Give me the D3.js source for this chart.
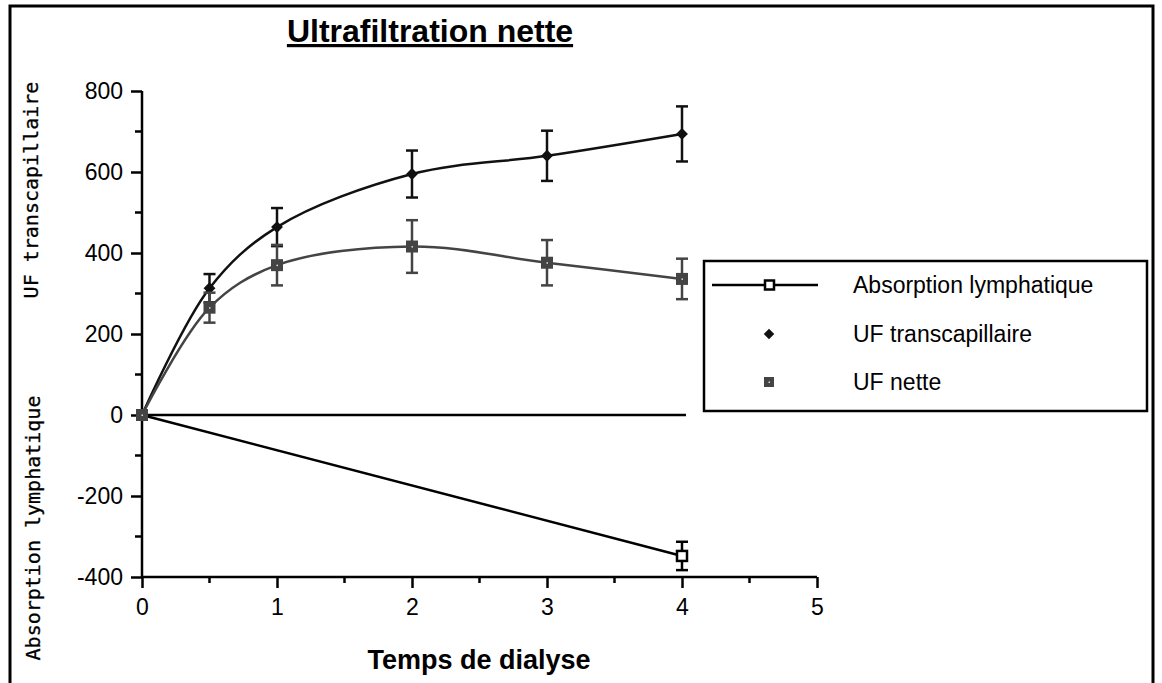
<!DOCTYPE html>
<html>
<head>
<meta charset="utf-8">
<script src="https://cdn.jsdelivr.net/npm/d3@7"></script>
<style>
  body { margin: 0; background: #fff; }
  svg { display: block; }
</style>
</head>
<body>
<svg id="chart" width="1162" height="683"></svg>
<script>
// time (h)
const hours = [0, 0.5, 1, 2, 3, 4]
const ufTrans = [0, 313, 464, 595, 640, 694]
const ufTransErr = [0, 35, 47, 58, 62, 68]
const ufNette = [0, 265, 370, 416, 376, 336]
const ufNetteErr = [0, 37, 50, 65, 56, 50]
const absHours = [0, 4]
const absLymph = [0, -348]
const absErr = [0, 35]
const xTicks = [0, 1, 2, 3, 4, 5]
const yTicks = [-400, -200, 0, 200, 400, 600, 800]
const legendNames = ["Absorption lymphatique", "UF transcapillaire", "UF nette"]

const svg = d3.select("#chart")
const font = "Arial, 'Liberation Sans', sans-serif"

const x = d3.scaleLinear().domain([0, 5]).range([142, 817])
const y = d3.scaleLinear().domain([-400, 800]).range([577, 91])

// outer frame (no bottom edge)
svg.append("path")
  .attr("d", "M10,683 V6 H1153 V683")
  .attr("fill", "none").attr("stroke", "#000").attr("stroke-width", 3)

// title
svg.append("text")
  .attr("x", 430).attr("y", 42)
  .attr("text-anchor", "middle")
  .style("font", "bold 32px " + font)
  .style("text-decoration", "underline")
  .text("Ultrafiltration nette")

// axes
const fmt = d => String(d)
const yAxis = d3.axisLeft(y).tickValues(yTicks).tickSize(11).tickPadding(8).tickFormat(fmt)
const gy = svg.append("g").attr("transform", "translate(142,0)").call(yAxis)
const xAxis = d3.axisBottom(x).tickValues(xTicks).tickSize(11).tickPadding(11).tickFormat(fmt)
const gx = svg.append("g").attr("transform", "translate(0,577)").call(xAxis)

;[gx, gy].forEach(g => {
  g.select(".domain").attr("stroke-width", 2.5)
  g.selectAll(".tick line").attr("stroke-width", 2.5)
  g.selectAll(".tick text").style("font", "23px " + font).attr("fill", "#000")
})
gx.select(".domain").attr("d", "M142,0H817")
gy.select(".domain").attr("d", "M0,91V577")

// minor ticks
svg.append("g").selectAll("line")
  .data(d3.range(-300, 800, 200))
  .join("line")
  .attr("x1", 135).attr("x2", 142)
  .attr("y1", d => y(d)).attr("y2", d => y(d))
  .attr("stroke", "#000").attr("stroke-width", 2.5)
svg.append("g").selectAll("line")
  .data([0.5, 1.5, 2.5, 3.5, 4.5])
  .join("line")
  .attr("x1", d => x(d)).attr("x2", d => x(d))
  .attr("y1", 577).attr("y2", 583)
  .attr("stroke", "#000").attr("stroke-width", 2.5)

// axis titles
svg.append("text")
  .attr("transform", "translate(" + 479 + ",669)")
  .attr("text-anchor", "middle")
  .style("font", "bold 27px " + font)
  .text("Temps de dialyse")

svg.append("text")
  .attr("transform", "translate(38,190) rotate(-90)")
  .attr("text-anchor", "middle")
  .style("font", "20px 'DejaVu Sans Mono', monospace")
  .attr("fill", "#000")
  .attr("stroke", "#000").attr("stroke-width", 0.3)
  .text("UF transcapillaire")
svg.append("text")
  .attr("transform", "translate(40,528) rotate(-90)")
  .attr("text-anchor", "middle")
  .style("font", "20px 'DejaVu Sans Mono', monospace")
  .attr("fill", "#000")
  .attr("stroke", "#000").attr("stroke-width", 0.3)
  .text("Absorption lymphatique")

// zero line
svg.append("line")
  .attr("x1", x(0)).attr("x2", x(4) + 4)
  .attr("y1", y(0)).attr("y2", y(0))
  .attr("stroke", "#000").attr("stroke-width", 2.5)

const line = d3.line().x(d => x(d[0])).y(d => y(d[1])).curve(d3.curveCatmullRom.alpha(0.5))

function errorBars(xs, vals, errs, color) {
  const g = svg.append("g").attr("stroke", color).attr("stroke-width", 2.5)
  xs.forEach((h, i) => {
    if (!errs[i]) return
    const cx = x(h)
    g.append("line").attr("x1", cx).attr("x2", cx)
      .attr("y1", y(vals[i] - errs[i])).attr("y2", y(vals[i] + errs[i]))
    ;[vals[i] - errs[i], vals[i] + errs[i]].forEach(v => {
      g.append("line").attr("x1", cx - 6).attr("x2", cx + 6)
        .attr("y1", y(v)).attr("y2", y(v))
    })
  })
}

// absorption lymphatique
svg.append("path")
  .attr("d", d3.line().x(d => x(d[0])).y(d => y(d[1]))(absHours.map((h, i) => [h, absLymph[i]])))
  .attr("fill", "none").attr("stroke", "#000").attr("stroke-width", 2.5)
errorBars(absHours, absLymph, absErr, "#000")
svg.append("g").selectAll("rect")
  .data(absHours.map((h, i) => [h, absLymph[i]]).filter(d => d[0] > 0))
  .join("rect")
  .attr("x", d => x(d[0]) - 5).attr("y", d => y(d[1]) - 5)
  .attr("width", 10).attr("height", 10)
  .attr("fill", "#fff").attr("stroke", "#000").attr("stroke-width", 2.5)

// UF transcapillaire
svg.append("path")
  .attr("d", line(hours.map((h, i) => [h, ufTrans[i]])))
  .attr("fill", "none").attr("stroke", "#111").attr("stroke-width", 2.5)
errorBars(hours, ufTrans, ufTransErr, "#111")
const diamond = d3.symbol().type(d3.symbolDiamond2).size(90)
svg.append("g").selectAll("path")
  .data(hours.map((h, i) => [h, ufTrans[i]]))
  .join("path")
  .attr("d", diamond)
  .attr("transform", d => "translate(" + x(d[0]) + "," + y(d[1]) + ")")
  .attr("fill", "#111")

// UF nette
svg.append("path")
  .attr("d", line(hours.map((h, i) => [h, ufNette[i]])))
  .attr("fill", "none").attr("stroke", "#444").attr("stroke-width", 2.5)
errorBars(hours, ufNette, ufNetteErr, "#444")
const sq = svg.append("g").selectAll("g")
  .data(hours.map((h, i) => [h, ufNette[i]]))
  .join("g")
  .attr("transform", d => "translate(" + x(d[0]) + "," + y(d[1]) + ")")
sq.append("rect").attr("x", -6).attr("y", -6).attr("width", 12).attr("height", 12).attr("fill", "#444")
sq.append("rect").attr("x", -0.5).attr("y", -0.5).attr("width", 1.5).attr("height", 1.5).attr("fill", "#ddd")

// legend
const lg = svg.append("g")
lg.append("rect")
  .attr("x", 704).attr("y", 261).attr("width", 443).attr("height", 150)
  .attr("fill", "#fff").attr("stroke", "#000").attr("stroke-width", 2.5)
const rows = [285, 334, 382]
lg.selectAll("text").data(legendNames).join("text")
  .attr("x", 853).attr("y", (d, i) => rows[i] + 8)
  .style("font", "23px " + font)
  .text(d => d)
lg.append("line").attr("x1", 712).attr("x2", 818).attr("y1", rows[0]).attr("y2", rows[0])
  .attr("stroke", "#000").attr("stroke-width", 2.5)
lg.append("rect").attr("x", 765).attr("y", rows[0] - 4.5).attr("width", 9).attr("height", 9)
  .attr("fill", "#fff").attr("stroke", "#000").attr("stroke-width", 2.5)
lg.append("path").attr("d", d3.symbol().type(d3.symbolDiamond2).size(70))
  .attr("transform", "translate(769," + rows[1] + ")").attr("fill", "#111")
lg.append("rect").attr("x", 764).attr("y", rows[2] - 5).attr("width", 10).attr("height", 10).attr("fill", "#444")
lg.append("rect").attr("x", 768.5).attr("y", rows[2] - 0.5).attr("width", 1.5).attr("height", 1.5).attr("fill", "#ddd")
</script>
</body>
</html>
